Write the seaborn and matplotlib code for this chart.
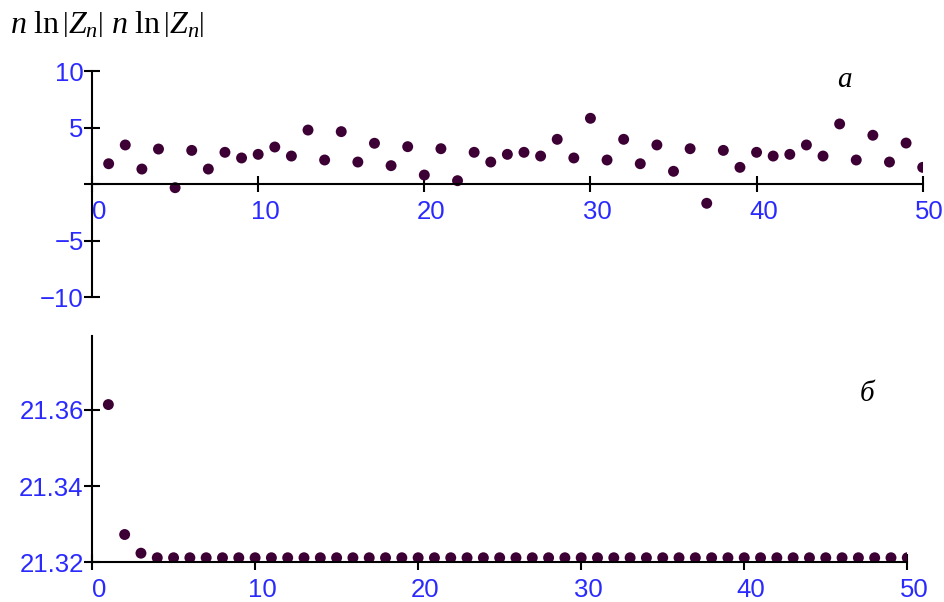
import matplotlib
matplotlib.use("Agg")
import matplotlib.pyplot as plt
import matplotlib.transforms as mtransforms
import seaborn as sns

# n = 1..50
n = list(range(1, 51))

# panel a: n ln|Z_n|
ln_z_a = [1.82, 3.48, 1.35, 3.12, -0.30, 3.00, 1.35, 2.83, 2.33, 2.65,
          3.30, 2.50, 4.80, 2.15, 4.66, 1.97, 3.63, 1.65, 3.33, 0.82,
          3.15, 0.32, 2.83, 1.97, 2.65, 2.83, 2.50, 3.98, 2.33, 5.84,
          2.15, 3.98, 1.82, 3.48, 1.15, 3.15, -1.68, 3.00, 1.50, 2.83,
          2.50, 2.65, 3.48, 2.50, 5.34, 2.15, 4.34, 1.97, 3.65, 1.50]

# panel b: n ln|Z_n|
ln_z_b = [21.3614, 21.3273, 21.3224, 21.3212, 21.3212, 21.3212, 21.3212, 21.3212, 21.3212, 21.3212,
          21.3212, 21.3212, 21.3212, 21.3212, 21.3212, 21.3212, 21.3212, 21.3212, 21.3212, 21.3212,
          21.3212, 21.3212, 21.3212, 21.3212, 21.3212, 21.3212, 21.3212, 21.3212, 21.3212, 21.3212,
          21.3212, 21.3212, 21.3212, 21.3212, 21.3212, 21.3212, 21.3212, 21.3212, 21.3212, 21.3212,
          21.3212, 21.3212, 21.3212, 21.3212, 21.3212, 21.3212, 21.3212, 21.3212, 21.3212, 21.3212]

x_ticks = [0, 10, 20, 30, 40, 50]
y_ticks_a = [-10, -5, 0, 5, 10]
y_labels_a = ["\u221210", "\u22125", "", "5", "10"]
y_ticks_b = [21.32, 21.34, 21.36]
y_labels_b = ["21.32", "21.34", "21.36"]

sns.set_theme(style="white")
plt.rcParams["font.family"] = ["Liberation Sans", "DejaVu Sans"]
plt.rcParams["mathtext.fontset"] = "custom"
plt.rcParams["mathtext.rm"] = "Liberation Serif"
plt.rcParams["mathtext.it"] = "Liberation Serif:italic"

dot = "#3d0035"
blue = "#2a2aff"

fig = plt.figure(figsize=(9.45, 6.02), dpi=100)
fig.patch.set_facecolor("white")
ax1 = fig.add_axes([0.0974, 0.5061, 0.879, 0.3755])
ax2 = fig.add_axes([0.0974, 0.0659, 0.8627, 0.376])

sns.scatterplot(x=n, y=ln_z_a, ax=ax1, color=dot, s=62, edgecolor="none")
sns.scatterplot(x=n, y=ln_z_b, ax=ax2, color=dot, s=62, edgecolor="none")

ax1.set_ylim(-10, 10)
ax1.set_yticks(y_ticks_a)
ax1.set_yticklabels(y_labels_a)
ax1.spines["bottom"].set_position(("data", 0))

ax2.set_ylim(21.32, 21.3794)
ax2.set_yticks(y_ticks_b)
ax2.set_yticklabels(y_labels_b)

shift = mtransforms.ScaledTranslation(7 / 100, 0, fig.dpi_scale_trans)

for ax in (ax1, ax2):
    ax.set_facecolor("white")
    ax.set_xlim(0, 50)
    ax.set_xticks(x_ticks)
    ax.set_xticklabels([str(t) for t in x_ticks])
    ax.spines["top"].set_visible(False)
    ax.spines["right"].set_visible(False)
    for s in ("left", "bottom"):
        ax.spines[s].set_color("black")
        ax.spines[s].set_linewidth(1.5)
    ax.tick_params(axis="both", direction="inout", length=11, width=1.5,
                   color="black", labelcolor=blue, labelsize=18.5,
                   bottom=True, left=True)
    ax.tick_params(axis="x", pad=5.5)
    ax.tick_params(axis="y", pad=0.5)
    ax.grid(False)
    for tick in ax.xaxis.get_major_ticks():
        tick.label1.set_transform(tick.label1.get_transform() + shift)

fig.text(10 / 945, 1 - 33 / 602, r"$n\ \ln\left|Z_n\right|\ n\ \ln\left|Z_n\right|$",
         fontsize=23, va="baseline", ha="left", color="black")
fig.text(844 / 945, 1 - 87 / 602, "\u0430", fontsize=21, style="italic",
         family="Liberation Serif", ha="center", va="baseline", color="black")
fig.text(867 / 945, 1 - 401 / 602, "\u0431", fontsize=21, style="italic",
         family="Liberation Serif", ha="center", va="baseline", color="black")

fig.savefig("out.png", dpi=100, facecolor="white")
